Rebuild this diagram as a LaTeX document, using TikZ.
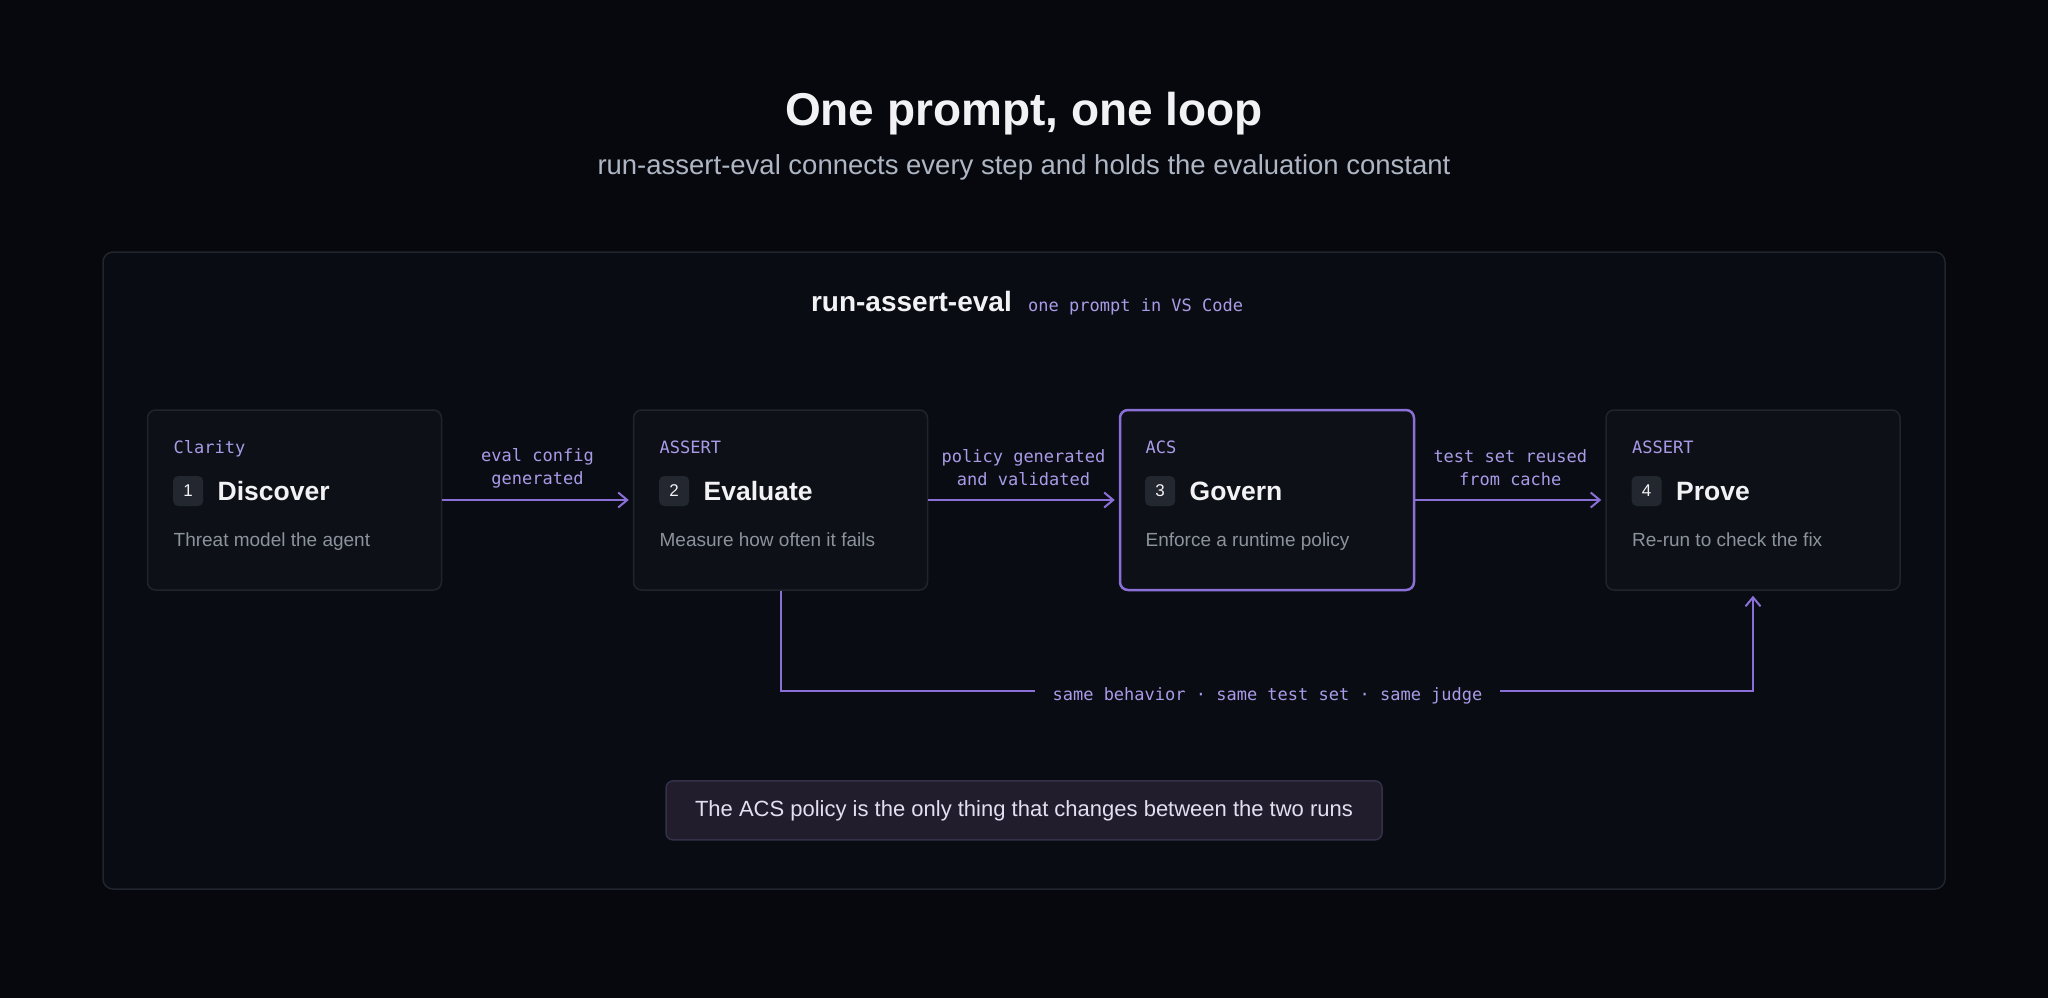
\documentclass[tikz,border=0pt]{standalone}
\usepackage{fontspec}
\setmainfont{Liberation Sans}
\newfontfamily\monof{DejaVu Sans Mono}
\usetikzlibrary{arrows.meta,calc}
\definecolor{bg}{HTML}{06080D}
\definecolor{framefill}{HTML}{090C12}
\definecolor{frameline}{HTML}{20252E}
\definecolor{cardfill}{HTML}{0D1117}
\definecolor{cardline}{HTML}{20252D}
\definecolor{purp}{HTML}{8A70D6}
\definecolor{lav}{HTML}{A99BE8}
\definecolor{titlec}{HTML}{F2F2F5}
\definecolor{subc}{HTML}{AEB6C4}
\definecolor{descc}{HTML}{8C939D}
\definecolor{badgefill}{HTML}{23272F}
\definecolor{notefill}{HTML}{211D2D}
\definecolor{noteline}{HTML}{35304A}
\definecolor{notetext}{HTML}{E4DFF0}
\tikzset{
  card/.style={draw=cardline, line width=1.5pt, fill=cardfill, rounded corners=8pt,
    minimum width=294pt, minimum height=180pt, inner sep=0pt},
  hot/.style={draw=purp, line width=2.5pt},
  lab/.style={font=\monof\fontsize{17}{20}\selectfont, text=lav, inner sep=0pt},
  badge/.style={fill=badgefill, rounded corners=5pt, minimum width=30pt, minimum height=30pt,
    inner sep=0pt, font=\fontsize{17}{20}\selectfont, text=titlec},
  cardtitle/.style={font=\fontsize{26.5}{30}\selectfont\bfseries, text=titlec, inner sep=0pt},
  desc/.style={font=\fontsize{19}{22}\selectfont, text=descc, inner sep=0pt},
  flow/.style={draw=purp, line width=2pt, -{Straight Barb[length=9pt,width=15pt,line width=2pt]}},
  flowlab/.style={font=\monof\fontsize{17}{23}\selectfont, text=lav, align=center, inner sep=0pt},
}
\newcommand\card[7]{%
  \node[card,#7] (#1) at (#2,500) {};
  \node[lab, anchor=base west] (#1lab) at ($(#1.west)+(26.7,-47)$) {#3};
  \node[badge] (#1num) at ($(#1.west)+(41.4,-9)$) {#4};
  \node[cardtitle, anchor=base west] (#1title) at ($(#1.west)+(70.7,0)$) {#5};
  \node[desc, anchor=base west] (#1desc) at ($(#1.west)+(26.7,46)$) {#6};
}
\begin{document}
\begin{tikzpicture}[x=1pt,y=-1pt]
\fill[bg] (0,0) rectangle (2048,998);
\useasboundingbox (0,0) rectangle (2048,998);

\node[anchor=base, inner sep=0pt, text=titlec, font=\fontsize{46}{50}\selectfont\bfseries] (title) at (1024,125) {One prompt, one loop};
\node[anchor=base, inner sep=0pt, text=subc, font=\fontsize{27.5}{32}\selectfont] (subtitle) at (1024,174) {run-assert-eval connects every step and holds the evaluation constant};

\draw[draw=frameline, line width=1.5pt, fill=framefill, rounded corners=10pt] (103,252) rectangle (1945,889);

\node[anchor=base east, inner sep=0pt, text=titlec, font=\fontsize{28}{32}\selectfont\bfseries] (hdr) at (1012,311) {run-assert-eval};
\node[anchor=base west, inner sep=0pt, text=lav, font=\monof\fontsize{17}{20}\selectfont] (hdrsub) at (1028,311) {one prompt in VS Code};

\card{b1}{294.5}{Clarity}{1}{Discover}{Threat model the agent}{}
\card{b2}{780.5}{ASSERT}{2}{Evaluate}{Measure how often it fails}{}
\card{b3}{1267}{ACS}{3}{Govern}{Enforce a runtime policy}{hot}
\card{b4}{1753}{ASSERT}{4}{Prove}{Re-run to check the fix}{}

\draw[flow, shorten >=4pt] (b1.east) -- (b2.west);
\draw[flow, shorten >=4pt] (b2.east) -- (b3.west);
\draw[flow, shorten >=4pt] (b3.east) -- (b4.west);
\node[flowlab] (f1) at ($(b1.east)!0.5!(b2.west)+(0,-32)$) {eval config\\generated};
\node[flowlab] (f2) at ($(b2.east)!0.5!(b3.west)+(0,-32)$) {policy generated\\and validated};
\node[flowlab] (f3) at ($(b3.east)!0.5!(b4.west)+(0,-32)$) {test set reused\\from cache};

\draw[flow, shorten >=5pt] (b2.south) -- ++(0,100.7) coordinate (lc) -| (b4.south);
\node[anchor=base, fill=framefill, inner xsep=18pt, inner ysep=4pt, text=lav,
  font=\monof\fontsize{17}{20}\selectfont] (loopl) at (1267.5,700) {same behavior · same test set · same judge};

\node[draw=noteline, line width=1.5pt, fill=notefill, rounded corners=7pt, minimum width=716pt,
  minimum height=59pt, text=notetext, font=\fontsize{22}{26}\selectfont] (note) at (1024,810.4)
  {The ACS policy is the only thing that changes between the two runs};
\end{tikzpicture}
\end{document}
